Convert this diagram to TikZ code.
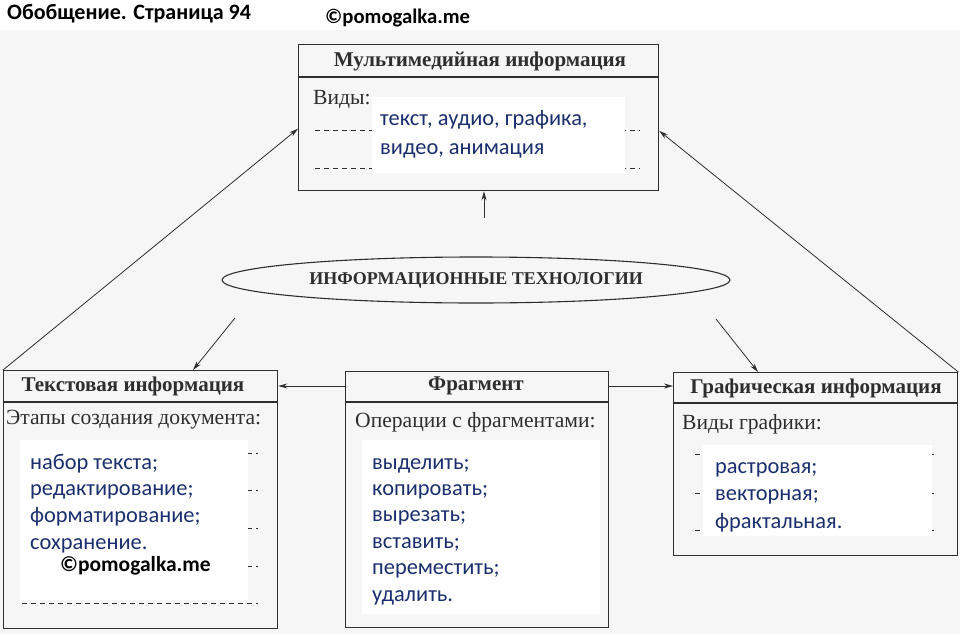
\documentclass[tikz,border=0pt]{standalone}
\usepackage{fontspec}
\setmainfont{Liberation Serif}
\newfontfamily\calib{Carlito}
\usetikzlibrary{positioning,calc,arrows.meta,shapes.geometric}

\definecolor{ink}{HTML}{2E2E2E}
\definecolor{answer_blue}{HTML}{1B2F6E}
\definecolor{scan_gray}{HTML}{F6F6F6}

\tikzset{
  infobox/.style={draw=ink, line width=1.3pt, anchor=north west, inner sep=0pt},
  boxtitle/.style={font=\fontsize{21}{24}\selectfont\bfseries, text=ink},
  boxnote/.style={font=\fontsize{21.6}{24}\selectfont, text=ink, anchor=west, inner sep=0pt},
  answer/.style={font=\calib\fontsize{22.4}{26}\selectfont, text=answer_blue, anchor=base west, inner sep=0pt},
  stamp/.style={font=\calib\bfseries\fontsize{21.5}{24}\selectfont, text=black, anchor=west, inner sep=0pt},
  arr/.style={draw=ink, line width=0.8pt, -{Stealth[length=9pt,width=5pt]}},
  gaps/.style={draw=ink, line width=0.7pt, dash pattern=on 5pt off 4pt},
  cover/.style={fill=white, draw=none},
}

\begin{document}
\begin{tikzpicture}[x=1pt, y=-1pt]

\useasboundingbox (0,0) rectangle (960,634);
\fill[scan_gray] (0,30) rectangle (960,634);

% page header
\node[stamp, font=\calib\bfseries\fontsize{22}{24}\selectfont] (pagehead) at (7,14) {Обобщение. Страница 94};
\node[stamp, font=\calib\bfseries\fontsize{20.7}{24}\selectfont] (sitehead) at (325,18) {©pomogalka.me};

% multimedia box
\node[infobox, minimum width=360pt, minimum height=146pt] (multi) at (298,44) {};
\draw[ink, line width=1.1pt] ($(multi.north west)+(0,33)$) -- ($(multi.north east)+(0,33)$);
\node[boxtitle] (multititle) at (480,61) {Мультимедийная информация};
\node[boxnote] (multinote) at (313,100) {Виды:};
\draw[gaps] (315,130) -- (640,130);
\draw[gaps] (315,168) -- (640,168);
\fill[cover] (372,97) rectangle (625,173);
\foreach \word [count=\i] in {{текст, аудио, графика,},{видео, анимация}}
  \node[answer] (kind\i) at (380,{125+(\i-1)*29}) {\word};

% central ellipse
\node[draw=ink, line width=1.1pt, ellipse, minimum width=508pt, minimum height=46pt,
  font=\fontsize{18}{20}\selectfont\bfseries, text=ink] (tech) at (476,280) {ИНФОРМАЦИОННЫЕ ТЕХНОЛОГИИ};

% text box
\node[infobox, minimum width=274pt, minimum height=258pt] (textinfo) at (3,370) {};
\draw[ink, line width=1.1pt] ($(textinfo.north west)+(0,32)$) -- ($(textinfo.north east)+(0,32)$);
\node[boxtitle] (texttitle) at (133,386) {Текстовая информация};
\node[boxnote] (textnote) at (6,420) {Этапы создания документа:};
\foreach \y in {453,490,528,566,603}
  \draw[gaps] (22,\y) -- (258,\y);
\fill[cover] (20,440) rectangle (248,600);
\foreach \word [count=\i] in {{набор текста;},{редактирование;},{форматирование;},{сохранение.}}
  \node[answer] (stage\i) at (30,{469+(\i-1)*26.7}) {\word};
\node[stamp] (sitebox) at (60,566) {©pomogalka.me};

% fragment box
\node[infobox, minimum width=263pt, minimum height=256pt] (frag) at (345,371) {};
\draw[ink, line width=1.1pt] ($(frag.north west)+(0,31)$) -- ($(frag.north east)+(0,31)$);
\node[boxtitle] (fragtitle) at (476,386) {Фрагмент};
\node[boxnote] (fragnote) at (355,422) {Операции с фрагментами:};
\fill[cover] (362,440) rectangle (600,614);
\foreach \word [count=\i] in {{выделить;},{копировать;},{вырезать;},{вставить;},{переместить;},{удалить.}}
  \node[answer] (oper\i) at (372,{469+(\i-1)*26.4}) {\word};

% graphics box
\node[infobox, minimum width=284pt, minimum height=183pt] (graph) at (673,372) {};
\draw[ink, line width=1.1pt] ($(graph.north west)+(0,31)$) -- ($(graph.north east)+(0,31)$);
\node[boxtitle] (graphtitle) at (816,388) {Графическая информация};
\node[boxnote] (graphnote) at (682,424) {Виды графики:};
\foreach \y in {454,493,530}
  \draw[gaps] (695,\y) -- (937,\y);
\fill[cover] (703,445) rectangle (932,536);
\foreach \word [count=\i] in {{растровая;},{векторная;},{фрактальная.}}
  \node[answer] (gkind\i) at (715,{473+(\i-1)*27.5}) {\word};

% connectors
\coordinate (multiL) at ($(multi.north west)!0.575!(multi.south west)$);
\coordinate (multiR) at ($(multi.north east)!0.59!(multi.south east)$);
\coordinate (techup) at (484,218);
\coordinate (techsw) at (235,318);
\coordinate (techse) at (716,319);

\draw[arr] (textinfo.north west) -- (multiL);
\draw[arr] (graph.north east) -- (multiR);
\draw[arr] (techup) -- (techup |- multi.south);
\draw[arr] (techsw) -- ($(textinfo.north west)+(190,0)$);
\draw[arr] (techse) -- ($(graph.north west)+(85,0)$);
\draw[arr] (frag.west |- fragtitle) -- (textinfo.east |- fragtitle);
\draw[arr] (frag.east |- fragtitle) -- (graph.west |- fragtitle);

\end{tikzpicture}
\end{document}
